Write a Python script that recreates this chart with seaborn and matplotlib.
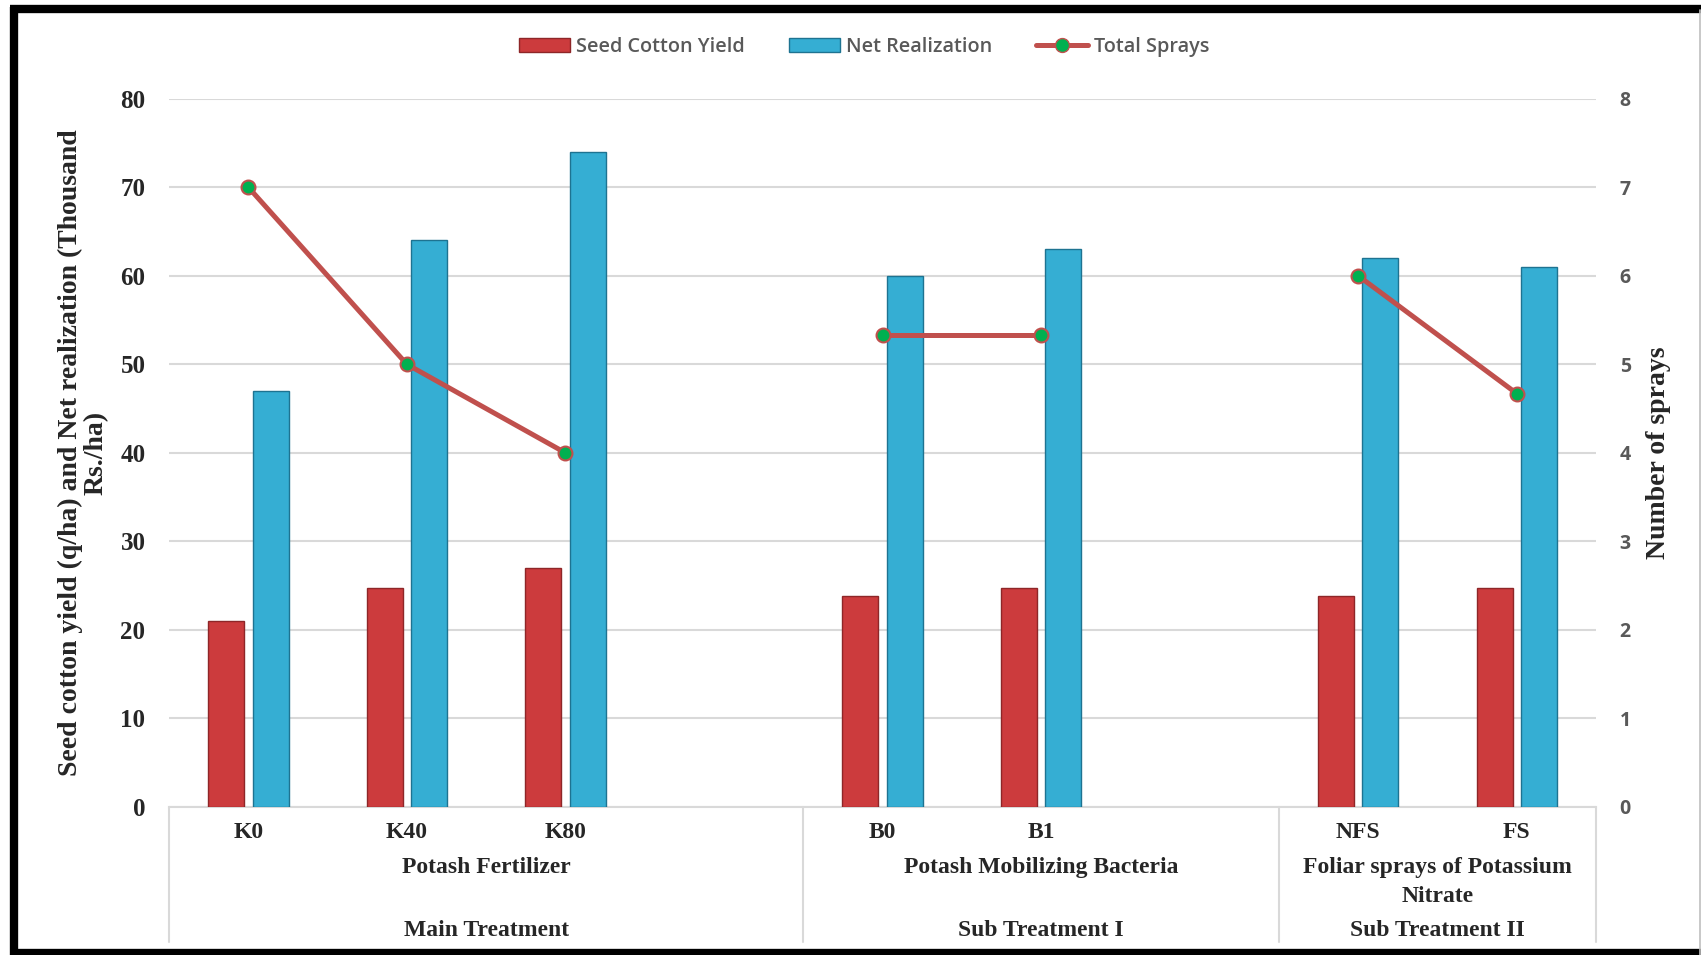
import matplotlib
matplotlib.use("Agg")
import matplotlib.pyplot as plt
import seaborn as sns
import pandas as pd
import numpy as np
from matplotlib.lines import Line2D
from matplotlib.patches import Patch

# ---- data ----
categories = ["K0", "K40", "K80", "", "B0", "B1", " ", "NFS", "FS"]
real_categories = ["K0", "K40", "K80", "B0", "B1", "NFS", "FS"]
groups = ["Potash Fertilizer", "Potash Fertilizer", "Potash Fertilizer",
          "Potash Mobilizing Bacteria", "Potash Mobilizing Bacteria",
          "Foliar sprays of Potassium\nNitrate", "Foliar sprays of Potassium\nNitrate"]
seed_cotton_yield = [21.0, 24.7, 27.0, 23.8, 24.7, 23.8, 24.7]
net_realization = [47, 64, 74, 60, 63, 62, 61]
total_sprays = [7.0, 5.0, 4.0, 5.33, 5.33, 6.0, 4.67]
group_titles = ["Potash Fertilizer", "Potash Mobilizing Bacteria", "Foliar sprays of Potassium\nNitrate"]
treatment_titles = ["Main Treatment", "Sub Treatment I", "Sub Treatment II"]
group_spans = [(0, 3), (4, 6), (7, 8)]  # category index ranges (inclusive)

series_names = ["Seed Cotton Yield", "Net Realization"]
red = "#CC3B3D"
blue = "#35AED3"

df = pd.DataFrame({
    "cat": real_categories * 2,
    "value": seed_cotton_yield + net_realization,
    "series": [series_names[0]] * 7 + [series_names[1]] * 7,
})
line_df = pd.DataFrame({
    "x": [categories.index(c) for c in real_categories],
    "sprays": total_sprays,
    "group": groups,
})

sns.set_theme(style="white")
serif = ["Liberation Serif", "DejaVu Serif"]
sans = ["Open Sans", "DejaVu Sans"]

fig = plt.figure(figsize=(17.01, 9.55), dpi=100)
ax = fig.add_axes([0.0994, 0.155, 0.8389, 0.7416])

sns.barplot(data=df, x="cat", y="value", hue="series", order=categories,
            hue_order=series_names, palette=[red, blue], width=0.56, gap=0.19,
            ax=ax, legend=False, saturation=1)
for i, bar in enumerate(ax.patches):
    bar.set_edgecolor("#8E2628" if i < 7 else "#1E7391")
    bar.set_linewidth(1.0)
    bar.set_zorder(3)

ax.set_ylim(0, 80)
ax.set_xlim(-0.5, 8.5)
ax.set_yticks(np.arange(0, 81, 10))
ax.yaxis.grid(True, color="#D9D9D9", linewidth=1.5)
ax.set_axisbelow(True)
for s in ["left", "right", "top"]:
    ax.spines[s].set_visible(False)
ax.spines["bottom"].set_color("#D9D9D9")
ax.spines["bottom"].set_linewidth(1.5)
ax.set_xticks(range(len(categories)))
ax.set_xticklabels(categories, fontfamily=serif, fontweight="bold", fontsize=17)
ax.tick_params(axis="x", length=0, pad=10.5)
ax.tick_params(axis="y", length=0, pad=17)
for t in ax.get_yticklabels():
    t.set_fontfamily(serif)
    t.set_fontweight("bold")
    t.set_fontsize(18)
ax.set_xlabel("")
ax.set_ylabel("Seed cotton yield (q/ha) and Net realization (Thousand\nRs./ha)",
              fontfamily=serif, fontweight="bold", fontsize=20,
              linespacing=1.05)
ax.yaxis.set_label_coords(-0.042, 0.5)

# twin axis for sprays
ax2 = ax.twinx()
sns.lineplot(data=line_df, x="x", y="sprays", units="group", estimator=None,
             color="#C0504D", linewidth=3.6, marker="o", markersize=10,
             markerfacecolor="#00B050", markeredgecolor="#C0504D",
             markeredgewidth=1.5, ax=ax2, legend=False, zorder=5)
ax2.set_ylim(0, 8)
ax2.set_xlim(-0.5, 8.5)
ax2.set_yticks(range(0, 9))
for s in ["left", "right", "top", "bottom"]:
    ax2.spines[s].set_visible(False)
ax2.tick_params(axis="y", length=0, pad=17)
for t in ax2.get_yticklabels():
    t.set_fontfamily(sans)
    t.set_fontweight("bold")
    t.set_fontsize(14)
    t.set_color("#595959")
ax2.set_ylabel("Number of sprays", fontfamily=serif, fontweight="bold",
               fontsize=20)
ax2.yaxis.set_label_coords(1.035, 0.5)
ax2.grid(False)

# category table below axis
trans = ax.get_xaxis_transform()
for x in [-0.5, 3.5, 6.5, 8.5]:
    ax.plot([x, x], [0, -0.19], transform=trans, color="#D9D9D9",
            linewidth=1.5, clip_on=False)
line_step = 0.042
for (a, b), g, tt in zip(group_spans, group_titles, treatment_titles):
    cx = (a - 0.5 + b + 0.5) / 2
    for k, part in enumerate(g.split("\n")):
        ax.text(cx, -0.085 - k * line_step, part, transform=trans, ha="center",
                va="center", fontfamily=serif, fontweight="bold", fontsize=17)
    ax.text(cx, -0.175, tt, transform=trans, ha="center", va="center",
            fontfamily=serif, fontweight="bold", fontsize=17)

# legend
handles = [
    Patch(facecolor=red, edgecolor="#8E2628", label="Seed Cotton Yield"),
    Patch(facecolor=blue, edgecolor="#1E7391", label="Net Realization"),
    Line2D([0], [0], color="#C0504D", linewidth=3.6, marker="o", markersize=10,
           markerfacecolor="#00B050", markeredgecolor="#C0504D", label="Total Sprays"),
]
leg = fig.legend(handles=handles, loc="center", bbox_to_anchor=(0.508, 0.951),
                 ncol=3, frameon=False, handlelength=2.6, handleheight=0.7,
                 columnspacing=2.2, handletextpad=0.3,
                 prop={"family": sans, "size": 14.3, "weight": "semibold"})
for t in leg.get_texts():
    t.set_color("#595959")

# outer frame
fig.add_artist(Line2D([0.008, 0.008], [0.0, 0.993], transform=fig.transFigure,
                      color="black", linewidth=6, solid_capstyle="butt"))
fig.add_artist(Line2D([0.006, 1.0], [0.991, 0.991], transform=fig.transFigure,
                      color="black", linewidth=6, solid_capstyle="butt"))
fig.add_artist(Line2D([0.006, 1.0], [0.002, 0.002], transform=fig.transFigure,
                      color="black", linewidth=6, solid_capstyle="butt"))
fig.add_artist(Line2D([0.9992, 0.9992], [0.0, 0.99], transform=fig.transFigure,
                      color="#BFBFBF", linewidth=1.2))

fig.savefig("out.png", dpi=100)
